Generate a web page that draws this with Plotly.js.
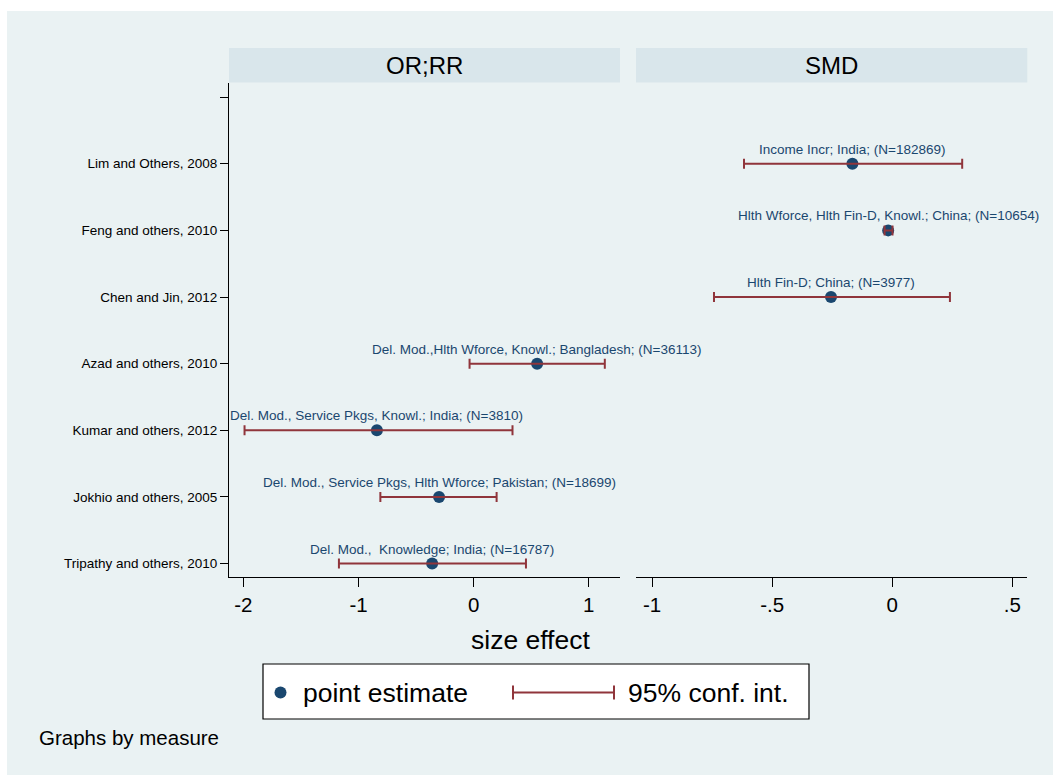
<!DOCTYPE html>
<html>
<head>
<meta charset="utf-8">
<script src="https://cdn.plot.ly/plotly-3.0.1.min.js"></script>
<style>html,body{margin:0;padding:0;background:#fff;}#chart{width:1053px;height:775px;}</style>
</head>
<body>
<div id="chart"></div>
<script>
// ---- data (top to bottom as drawn) ----
const studies = ["Lim and Others, 2008","Feng and others, 2010","Chen and Jin, 2012","Azad and others, 2010","Kumar and others, 2012","Jokhio and others, 2005","Tripathy and others, 2010"];
const measure = ["SMD","SMD","SMD","OR;RR","OR;RR","OR;RR","OR;RR"];
const estimate = [-0.166, -0.017, -0.255, 0.552, -0.84, -0.30, -0.36];
const ciLow    = [-0.617, -0.032, -0.742, -0.035, -1.99, -0.81, -1.17];
const ciHigh   = [ 0.291,  0.001,  0.240,  1.14,  0.338, 0.20, 0.455];
const pointLabels = [
  "Income Incr; India; (N=182869)",
  "Hlth Wforce, Hlth Fin-D, Knowl.; China; (N=10654)",
  "Hlth Fin-D; China; (N=3977)",
  "Del. Mod.,Hlth Wforce, Knowl.; Bangladesh; (N=36113)",
  "Del. Mod., Service Pkgs, Knowl.; India; (N=3810)",
  "Del. Mod., Service Pkgs, Hlth Wforce; Pakistan; (N=18699)",
  "Del. Mod., \u00a0Knowledge; India; (N=16787)"
];
const panels = ["OR;RR","SMD"];
const xTickVals = {"OR;RR":[-2,-1,0,1], "SMD":[-1,-0.5,0,0.5]};
const xTickText = {"OR;RR":["-2","-1","0","1"], "SMD":["-1","-.5","0",".5"]};
const xAxisTitle = "size effect";
const legendLabels = ["point estimate","95% conf. int."];
const byNote = "Graphs by measure";

// ---- layout helpers ----
const W = 1053, H = 775;
const px = v => v / W, py = v => 1 - v / H;
const NAVY = "#1a476f", CRAN = "#90353b", GRBG = "#eaf2f3", HDR = "#d9e6eb";
const FONT = "Liberation Sans, Arial, Helvetica, sans-serif";
const n = studies.length;
const ypos = studies.map((_, i) => n - i);
const axisOf = {"OR;RR": "x", "SMD": "x2"};

const traces = [];
panels.forEach(p => {
  const idx = studies.map((_, i) => i).filter(i => measure[i] === p);
  const xs = idx.map(i => estimate[i]);
  const ys = idx.map(i => ypos[i]);
  traces.push({
    type: "scatter", mode: "markers", xaxis: axisOf[p], yaxis: "y",
    x: xs, y: ys, marker: {color: NAVY, size: 12}, hoverinfo: "skip", showlegend: false
  });
  traces.push({
    type: "scatter", mode: "markers", xaxis: axisOf[p], yaxis: "y",
    x: xs, y: ys, marker: {color: "rgba(0,0,0,0)", size: 1}, hoverinfo: "skip", showlegend: false,
    error_x: {type: "data", symmetric: false,
      array: idx.map(i => ciHigh[i] - estimate[i]),
      arrayminus: idx.map(i => estimate[i] - ciLow[i]),
      color: CRAN, thickness: 2, width: 5}
  });
});

const annotations = [];
studies.forEach((s, i) => {
  annotations.push({
    xref: axisOf[measure[i]], yref: "y", x: estimate[i], y: ypos[i],
    text: pointLabels[i], showarrow: false, yanchor: "middle", xanchor: "center",
    yshift: 14.5, font: {family: FONT, size: 13.5, color: NAVY}
  });
});
// panel titles
const panelX = {"OR;RR": [229, 620], "SMD": [636, 1027.3]};
const shapes = [
  {type: "rect", xref: "paper", yref: "paper", x0: px(7), x1: 1, y0: 0, y1: py(11),
   fillcolor: GRBG, line: {width: 0}, layer: "below"}
];
panels.forEach(p => {
  const [a, b] = panelX[p];
  shapes.push({type: "rect", xref: "paper", yref: "paper", x0: px(a), x1: px(b), y0: py(82.5), y1: py(48),
    fillcolor: HDR, line: {width: 0}, layer: "below"});
  annotations.push({xref: "paper", yref: "paper", x: px((a + b) / 2), y: py(65), text: p, showarrow: false,
    xanchor: "center", yanchor: "middle", font: {family: FONT, size: 24, color: "#000"}});
});
// axis title
annotations.push({xref: "paper", yref: "paper", x: px(530), y: py(640), text: xAxisTitle, showarrow: false,
  xanchor: "center", yanchor: "middle", font: {family: FONT, size: 26.5, color: "#000"}});
// legend (drawn)
shapes.push({type: "rect", xref: "paper", yref: "paper", x0: px(263), x1: px(809), y0: py(719), y1: py(664),
  fillcolor: "#fff", line: {color: "#000", width: 1.2}, layer: "above"});
shapes.push({type: "circle", xref: "paper", yref: "paper", x0: px(274.5), x1: px(286.5), y0: py(698.5), y1: py(686.5),
  fillcolor: NAVY, line: {width: 0}, layer: "above"});
shapes.push({type: "line", xref: "paper", yref: "paper", x0: px(513), x1: px(614), y0: py(692.5), y1: py(692.5),
  line: {color: CRAN, width: 2}, layer: "above"});
shapes.push({type: "line", xref: "paper", yref: "paper", x0: px(513), x1: px(513), y0: py(685.5), y1: py(699.5),
  line: {color: CRAN, width: 2}, layer: "above"});
shapes.push({type: "line", xref: "paper", yref: "paper", x0: px(614), x1: px(614), y0: py(685.5), y1: py(699.5),
  line: {color: CRAN, width: 2}, layer: "above"});
annotations.push({xref: "paper", yref: "paper", x: px(301), y: py(693), text: legendLabels[0], showarrow: false,
  xanchor: "left", yanchor: "middle", font: {family: FONT, size: 26.5, color: "#000"}});
annotations.push({xref: "paper", yref: "paper", x: px(626), y: py(693), text: legendLabels[1], showarrow: false,
  xanchor: "left", yanchor: "middle", font: {family: FONT, size: 26.5, color: "#000"}});
annotations.push({xref: "paper", yref: "paper", x: px(37), y: py(737), text: byNote, showarrow: false,
  xanchor: "left", yanchor: "middle", font: {family: FONT, size: 20.5, color: "#000"}});

const xaxisBase = p => ({
  domain: [px(panelX[p][0]), px(panelX[p][1])],
  anchor: "y", showgrid: false, zeroline: true, zerolinecolor: GRBG, zerolinewidth: 1.5,
  showline: true, linecolor: "#000", linewidth: 1, mirror: false,
  ticks: "outside", ticklen: 9, tickcolor: "#000", tickwidth: 1,
  tickmode: "array", tickvals: xTickVals[p], ticktext: xTickText[p],
  tickfont: {family: FONT, size: 20.5, color: "#000"}, fixedrange: true
});
const layout = {
  width: W, height: H, margin: {l: 0, r: 0, t: 0, b: 0},
  paper_bgcolor: "#fff", plot_bgcolor: "#fff", showlegend: false,
  font: {family: FONT},
  xaxis: Object.assign(xaxisBase("OR;RR"), {range: [-2.125, 1.272]}),
  xaxis2: Object.assign(xaxisBase("SMD"), {range: [-1.0666, 0.562]}),
  yaxis: {
    domain: [py(577), py(82.5)], anchor: "x", range: [0.799, 8.219],
    showgrid: false, zeroline: false, showline: true, linecolor: "#000", linewidth: 1,
    ticks: "outside", ticklen: 8, tickcolor: "#000", tickwidth: 1,
    tickmode: "array", tickvals: ypos.concat([n + 1]),
    ticktext: studies.concat([""]),
    tickfont: {family: FONT, size: 13.5, color: "#000"}, fixedrange: true
  },
  shapes: shapes, annotations: annotations
};
Plotly.newPlot("chart", traces, layout, {displayModeBar: false, staticPlot: true});
</script>
</body>
</html>
